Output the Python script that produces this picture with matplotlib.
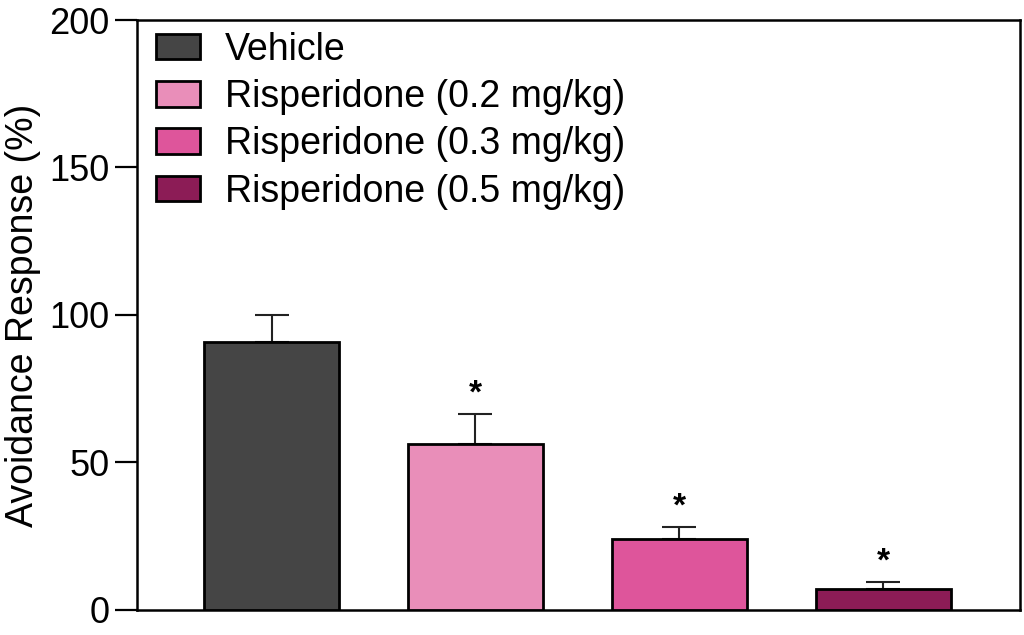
import matplotlib
matplotlib.use("Agg")
import matplotlib.pyplot as plt
import numpy as np

plt.rcParams['font.family'] = ['Liberation Sans', 'DejaVu Sans']

groups = ["Vehicle", "Risperidone (0.2 mg/kg)", "Risperidone (0.3 mg/kg)", "Risperidone (0.5 mg/kg)"]
means = [90.8, 56.3, 24.1, 7.1]
errors = [9.2, 10.1, 4.0, 2.4]
colors = ["#454545", "#E98EB9", "#DE559B", "#8C1C56"]
significant = [False, True, True, True]
yticks = [0, 50, 100, 150, 200]

fig = plt.figure(figsize=(10.24, 6.35), dpi=100)
ax = fig.add_axes([0.1338, 0.0394, 0.996 - 0.1338, 0.9685 - 0.0394])

x = np.arange(len(groups))
for i in range(len(groups)):
    ax.bar(x[i], means[i], width=0.66, color=colors[i], edgecolor='black',
           linewidth=2, label=groups[i], zorder=3)
    ax.errorbar(x[i], means[i], yerr=[[0], [errors[i]]], fmt='none',
                ecolor='#222222', elinewidth=1.5, capsize=12, capthick=1.5, zorder=2)
    if significant[i]:
        ax.text(x[i], means[i] + errors[i] + 1.5, '*', ha='center', va='bottom',
                fontsize=24, fontweight='bold')

ax.set_xlim(-0.66, 3.67)
ax.set_ylim(0, 200)
ax.set_yticks(yticks)
ax.set_xticks([])
ax.tick_params(axis='y', labelsize=26, length=16, width=1.6, pad=4)
for s in ax.spines.values():
    s.set_linewidth(1.8)
ax.set_ylabel('Avoidance Response (%)', fontsize=27, labelpad=6)

ax.legend(loc='upper left', frameon=False, fontsize=27, handlelength=1.15,
          handleheight=0.67, handletextpad=0.67, labelspacing=0.3,
          borderaxespad=0.0, borderpad=0.0, bbox_to_anchor=(0.022, 0.98))

fig.savefig('out.png', dpi=100)
